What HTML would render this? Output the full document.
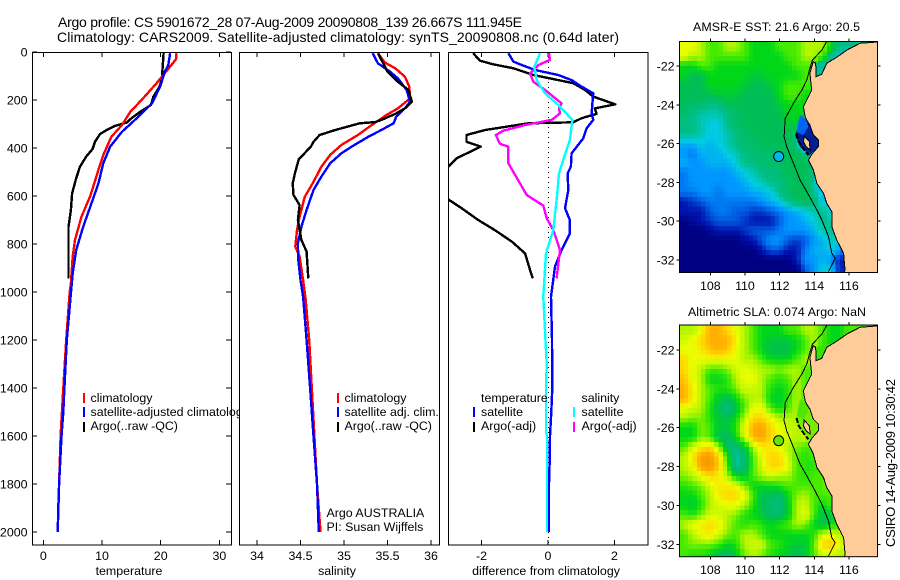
<!DOCTYPE html>
<html>
<head>
<meta charset="utf-8">
<title>Argo profile chart</title>
<style>
html,body{margin:0;padding:0;background:#fff;}
svg{display:block;font-family:"Liberation Sans",Arial,sans-serif;font-size:12.4px;fill:#000;}
text{fill:#000;}
</style>
</head>
<body>
<svg id="chart" xmlns="http://www.w3.org/2000/svg" width="900" height="580" viewBox="0 0 900 580">
<defs>
<clipPath id="clip-temp"><rect x="32" y="52" width="199.5" height="493"/></clipPath>
<clipPath id="clip-sal"><rect x="239.5" y="52" width="200" height="493"/></clipPath>
<clipPath id="clip-diff"><rect x="448.5" y="52" width="199.5" height="493"/></clipPath>
<clipPath id="clip-map1"><rect x="679.5" y="41.5" width="198" height="231"/></clipPath>
<clipPath id="clip-map2"><rect x="679.5" y="325" width="198" height="231.7"/></clipPath>
</defs>
<rect x="0" y="0" width="900" height="580" fill="#fff"/>
<text x="58" y="27" font-size="14" textLength="464">Argo profile: CS 5901672_28 07-Aug-2009 20090808_139 26.667S 111.945E</text>
<text x="57" y="42" font-size="14" textLength="562">Climatology: CARS2009. Satellite-adjusted climatology: synTS_20090808.nc (0.64d later)</text>

<g id="panel-temp">
<rect x="32.5" y="52.5" width="199" height="492.5" fill="#fff" stroke="#000"/>
<g id="temp-ticks"></g>
<g id="temp-marks" clip-path="url(#clip-temp)"></g>
<text x="129" y="575" text-anchor="middle">temperature</text>
<g>
<rect x="83" y="393" width="2" height="10" fill="#f00"/>
<text x="90.5" y="402">climatology</text>
<rect x="83" y="407" width="2" height="10" fill="#00f"/>
<text x="90.5" y="416">satellite-adjusted climatology</text>
<rect x="83" y="422" width="2" height="10" fill="#000"/>
<text x="90.5" y="430">Argo(..raw -QC)</text>
</g>
</g>

<g id="panel-sal">
<rect x="239.5" y="52.5" width="200" height="492.5" fill="#fff" stroke="#000"/>
<g id="sal-ticks"></g>
<g id="sal-marks" clip-path="url(#clip-sal)"></g>
<text x="337" y="575" text-anchor="middle">salinity</text>
<g>
<rect x="337" y="393" width="2" height="10" fill="#f00"/>
<text x="344.5" y="402">climatology</text>
<rect x="337" y="407" width="2" height="10" fill="#00f"/>
<text x="344.5" y="416">satellite adj. clim.</text>
<rect x="337" y="422" width="2" height="10" fill="#000"/>
<text x="344.5" y="430">Argo(..raw -QC)</text>
<text x="326.5" y="517">Argo AUSTRALIA</text>
<text x="326.5" y="531">PI: Susan Wijffels</text>
</g>
</g>

<g id="panel-diff">
<rect x="448.5" y="52.5" width="199.5" height="492.5" fill="#fff" stroke="#000"/>
<g id="diff-ticks"></g>
<g id="diff-marks" clip-path="url(#clip-diff)"></g>
<text x="546" y="575" text-anchor="middle">difference from climatology</text>
<g>
<text x="481" y="402">temperature</text>
<rect x="473" y="407" width="2" height="10" fill="#00f"/>
<text x="481" y="416">satellite</text>
<rect x="473" y="422" width="2" height="10" fill="#000"/>
<text x="481" y="430">Argo(-adj)</text>
<text x="581.5" y="402">salinity</text>
<rect x="573" y="407" width="2" height="10" fill="#0ff"/>
<text x="581.5" y="416">satellite</text>
<rect x="573" y="422" width="2" height="10" fill="#f0f"/>
<text x="581.5" y="430">Argo(-adj)</text>
</g>
</g>

<g id="map1">
<text x="776.5" y="31" text-anchor="middle" textLength="167">AMSR-E SST: 21.6 Argo: 20.5</text>
<g id="map1-cells" clip-path="url(#clip-map1)"></g>
<g id="map1-overlay" clip-path="url(#clip-map1)"></g>
<rect x="679.5" y="41.5" width="198" height="231" fill="none" stroke="#000"/>
<g id="map1-ticks"></g>
</g>

<g id="map2">
<text x="777" y="316" text-anchor="middle" textLength="178">Altimetric SLA: 0.074 Argo: NaN</text>
<g id="map2-cells" clip-path="url(#clip-map2)"></g>
<g id="map2-overlay" clip-path="url(#clip-map2)"></g>
<rect x="679.5" y="325" width="198" height="231.7" fill="none" stroke="#000"/>
<g id="map2-ticks"></g>
</g>

<text transform="translate(895,463) rotate(-90)" text-anchor="middle" font-size="13" textLength="168">CSIRO 14-Aug-2009 10:30:42</text>
</svg>

<script>
// ---- axis tick values ----
const depthTicks = [0, 200, 400, 600, 800, 1000, 1200, 1400, 1600, 1800, 2000];
const tempTicks = [0, 10, 20, 30];
const salTicks = [34, 34.5, 35, 35.5, 36];
const diffTicks = [-2, 0, 2];
const lonTicks = [108, 110, 112, 114, 116];
const latTicks = [-22, -24, -26, -28, -30, -32];

// ---- temperature panel ----
const tempClimDepth = [5, 30, 70, 130, 193, 250, 304, 353, 430, 490, 600, 686, 783, 853, 964, 1000, 1200, 1400, 1600, 1800, 2000];
const tempClimValue = [22.7, 22.6, 21.3, 19.3, 17, 14.8, 13.4, 11.6, 10.2, 9.4, 8, 6.5, 5.4, 5, 4.7, 4.5, 3.9, 3.4, 2.95, 2.7, 2.45];
const tempSatDepth = [5, 55, 82, 145, 214, 262, 297, 332, 394, 464, 547, 644, 728, 825, 922, 1005, 1200, 1400, 1500, 1600, 1700, 1800, 1900, 2000];
const tempSatValue = [21.6, 21.3, 20.7, 19.9, 18.5, 16.5, 15, 13.4, 11.4, 10.2, 9.4, 8, 6.8, 5.6, 5, 4.7, 4, 3.6, 3.4, 3.1, 2.9, 2.7, 2.55, 2.45];
const tempArgoDepth = [5, 110, 145, 186, 221, 249, 276, 294, 308, 325, 342, 374, 404, 436, 478, 526, 589, 658, 728, 943];
const tempArgoValue = [20.5, 20.2, 19.8, 18.75, 18.35, 16.5, 15.05, 14.2, 12.2, 10.8, 9.66, 8.8, 8.4, 7.3, 6.25, 5.6, 4.9, 4.7, 4.3, 4.3];

// ---- salinity panel ----
const salClimDepth = [5, 44, 68, 103, 144, 193, 235, 262, 304, 346, 387, 429, 478, 547, 603, 686, 742, 811, 853, 950, 1033, 1200, 1400, 1600, 1800, 2000];
const salClimValue = [35.39, 35.47, 35.59, 35.7, 35.75, 35.76, 35.62, 35.49, 35.32, 35.16, 34.97, 34.84, 34.74, 34.64, 34.55, 34.49, 34.46, 34.44, 34.49, 34.53, 34.56, 34.6, 34.63, 34.66, 34.69, 34.73];
const salSatDepth = [5, 47, 82, 110, 158, 207, 235, 269, 297, 325, 353, 394, 422, 464, 519, 575, 658, 728, 797, 867, 950, 1019, 1200, 1400, 1600, 1800, 2000];
const salSatValue = [35.33, 35.39, 35.53, 35.62, 35.72, 35.76, 35.7, 35.6, 35.57, 35.43, 35.28, 35.09, 34.97, 34.84, 34.74, 34.65, 34.57, 34.51, 34.47, 34.475, 34.5, 34.53, 34.57, 34.61, 34.65, 34.69, 34.71];
const salArgoDepth = [5, 47, 82, 124, 158, 207, 235, 258, 283, 292, 297, 325, 346, 374, 394, 447, 499, 547, 596, 638, 700, 783, 832, 943];
const salArgoValue = [35.39, 35.45, 35.5, 35.62, 35.74, 35.78, 35.7, 35.59, 35.43, 35.36, 35.18, 34.9, 34.72, 34.65, 34.62, 34.48, 34.44, 34.41, 34.42, 34.49, 34.47, 34.51, 34.57, 34.59];

// ---- difference panel ----
const diffTempArgoDepth = [5, 36, 50, 68, 96, 117, 130, 158, 186, 218, 235, 258, 276, 293, 297, 325, 346, 374, 394, 443, 478, 545, 614, 651, 700, 742, 790, 839, 908, 943];
const diffTempArgoValue = [-2.25, -2.05, -1.69, -1.04, -0.44, 0.31, 0.76, 1.11, 1.36, 2.02, 1.41, 1.46, 1.01, 0.76, -0.59, -1.89, -2.45, -2.45, -2.02, -2.75, -3, -3.5, -3, -2.6, -2.1, -1.6, -1.09, -0.69, -0.54, -0.46];
const diffTempSatDepth = [5, 40, 54, 75, 96, 117, 144, 172, 256, 283, 318, 360, 422, 478, 506, 575, 651, 700, 756, 825, 894, 1019, 1200, 1400, 1500, 1600, 1700, 1800, 2000];
const diffTempSatValue = [-1.19, -1.04, -0.79, -0.39, 0.31, 0.71, 1.01, 1.36, 1.31, 1.36, 1.16, 1.06, 0.71, 0.69, 0.59, 0.61, 0.51, 0.66, 0.66, 0.41, 0.21, 0.09, 0.12, 0.13, 0.1, 0.06, 0.05, 0.03, 0.03];
const diffSalSatDepth = [5, 61, 117, 172, 221, 283, 367, 436, 506, 617, 742, 839, 1019, 1300, 1400, 1580, 1600, 2000];
const diffSalSatValue = [-0.24, -0.41, -0.34, -0.09, 0.31, 0.73, 0.66, 0.49, 0.33, 0.26, 0.16, -0.06, -0.14, -0.04, -0.06, -0.06, -0.03, -0.03];
const diffSalArgoDepth = [5, 33, 54, 89, 124, 158, 214, 235, 256, 283, 304, 328, 346, 383, 394, 464, 512, 596, 640, 693, 742, 825, 943];
const diffSalArgoValue = [0.03, 0.06, -0.29, -0.54, -0.44, -0.09, 0.41, 0.33, 0.36, 0.11, -0.69, -1.34, -1.57, -1.44, -1.19, -1.19, -0.99, -0.64, -0.14, -0.04, 0.16, 0.36, 0.26];

// ---- map heatmap values (colour-scale units, 0.5 degree cells; land hides the rest) ----
const sstRows = [
[10,10,9,8,8,9,9,8,7,7,7,8,8,8,9,9,9,7,5,5,5],
[10,9,9,8,8,8,8,8,7,7,7,7,8,8,9,9,8,5,4,4],
[7,7,8,8,7,7,7,7,7,7,7,7,7,8,8,8,5,4],
[7,6,6,7,7,7,7,7,6.5,6.5,7,7,7,7,8,8,5],
[6,6,6,7,7,7,7,6.5,6,6,6.5,7,8,8,8],
[6,6,6,6,6.5,6.5,6.5,6,6,6,6,7,8,8,7],
[6,5.5,5.5,5,5,6,6,6,6,6,6,6.5,7,7,7],
[5.5,5,4.5,4.5,4.5,5,5.5,6,6,6,6,6,7,7,7],
[5,5,4.5,4,4,5,5.5,6,6,6,6,6,6.5,6.5,3],
[5,5,4.5,4,4,4.5,5,5.5,6,6,6,6,6,6,2],
[3.5,3.5,4,3.5,4,4.5,5,5.5,5.5,6,6,6,6,5,1],
[3,2.5,3.5,3.5,3.5,4,4.5,5,5.5,5.5,5.5,5.5,6,6,5],
[3.5,3,3,3.5,3.5,3.5,4,5,5,5.5,5.5,5.5,6,6,6,5],
[2.5,3,3,3,3,3,3.5,4,4.5,5,5,5.5,6,6,6,5,4],
[2.5,3,3,3,3,3,3,3.5,4,4.5,5,5,5.5,6,6,4.5,3],
[2.5,2.5,3,3,2.5,3,3,3,3.5,3.5,4,5,5.5,6,6,5,3.5,3],
[1,1.5,2,2.5,2.5,2.5,2.5,2.5,2.5,3,3.5,4,5,5.5,6,5.5,4,3],
[1,1,1,2,2.5,2.5,2,2,1.5,1.5,2,2.5,3,3.5,4,4.5,5,4],
[0,0.5,1,1.5,2,2,2,1.5,1,1,1,2,3,3,3.5,4,5,4.5],
[0,0,0,0.5,1,1,1,1.5,2,2,2,2.5,3,3,3,3.5,4.5,5,4],
[0,0,0,0,0,0,0,0.5,1,2,3,3,2,1.5,2,3,3.5,4.5,4],
[0,0,0,0,0,0,0,0,0,1,2,2,1,1,2.5,3.5,3.5,4,3,2],
[0,0,0,0,0,0,0,0,0,0,0,0,0,1,3,3,3.5,3,1,1],
[0,0,0,0,0,0,0,0,0,0,0,0,0,0,2,3,4,4,1,2]
];
const slaRows = [
[9,9,10,12,12,11,10,9,8,7,7,7,8,8,9,9,8,7,7,8,8],
[9.5,10,11,12,12,12,10.5,9,8,7,6.5,6.5,6.5,7,8,9,8,7,7,8],
[10,10,10.5,11.5,12,11.5,10,9,8,7,6,6,6,7,8,9,7.5,7],
[11,10,10,10,10,10,10,9,9,8,7,7,7,8,9,9,8],
[11,10,9,8,8,8.5,9.5,10,9.5,9,9,8.5,9,9,8],
[11.5,10,9,7,7,7.5,9,10,10,9,8,7.5,8,9,8],
[12,10.5,9,8,7.5,7.5,8.5,9.5,9.5,9,7.5,7,7.5,9,8],
[12,10.5,9,8,6.5,6,7,8.5,9,9,7,6.5,7.5,9,8],
[10,9.5,9,7.5,6,5,6,8,10,10,8,7,8,9,8],
[9,8.5,8.5,7.5,6.5,6,7,9,11,11,10,9,9,9,8.5,8],
[7,7,8.5,8,6.5,6.5,7.5,10,12,12.5,11,10,9.5,9,9,8],
[7,7,8.5,8,6,5.5,7,9.5,12,12.5,11,10,9.5,9,9.5,8],
[8,9.5,10.5,11,9,5.5,5,6.5,9,10.5,10.5,10,9,8.5,8,8,9],
[9,10.5,12.5,13,11,7.5,4.5,5.5,8,10,11,11,9.5,8,7.5,8,9,9],
[9,10,12.5,13,11.5,8,4.5,5.5,8,9.5,11,11,10,8,7.5,7.5,8.5,9],
[8.5,9,10,11,10.5,9,7,6.5,8,9,9.5,9,9,8,7.5,8,8,9],
[7.5,8,8.5,9.5,10.5,10.5,10,8.5,7,7,7,7.5,8,8,8,8,8,9],
[7,7,8,9,10.5,11,11,10,8,6,6,5.5,7,8.5,9,8,8,8,9],
[7,6.5,7.5,9,9.5,10,10,9,7.5,6,5.5,5,6.5,9,9.5,8,7,8,8.5],
[8,7.5,8.5,9.5,9.5,9,8.5,7.5,7,6.5,5.5,5.5,6.5,9,10,8,6,6.5,8,9],
[9,10,10.5,11,10.5,9,8,7.5,8,7.5,7,7.5,8,9,8.5,7,6,7,8,9],
[8,9,10,10.5,9.5,8.5,8,9,9,8,7,7,7,7,7,7.5,9.5,10,9,8.5,9],
[8,8.5,8.5,8.5,8,7,7.5,9,9.5,9.5,8,7.5,7,6.5,6.5,8,11,11.5,10,9,9.5],
[8,7.5,7.5,7,6,5.5,6.5,8.5,9,8.5,7.5,7,6.5,6,6.5,8,9.5,9.5,9,9,9.5]
];

// ---- geography (lon / lat) ----
const coastLon = [117.8,116.64,115.96,115.2,114.72,114.43,114.1,114.08,113.94,113.75,113.85,113.37,113.47,113.57,113.75,113.95,114.23,114.23,113.86,113.66,113.95,114.15,114.53,114.72,115.01,115.01,115.3,115.69,115.78,115.73,117.8];
const coastLat = [-20.75,-20.83,-21.14,-21.6,-21.86,-22.43,-22.55,-21.86,-21.78,-22.38,-23.24,-24.1,-24.61,-24.8,-25.04,-25.56,-25.81,-26.16,-26.54,-26.85,-27.36,-28.05,-28.56,-29.08,-29.51,-30.28,-30.97,-31.66,-32.52,-32.65,-32.65];
const isobathLon = [114.72,114.44,113.9,113.72,113.57,113.28,112.8,112.32,112.26,112.41,112.8,113.18,113.57,114.05,114.44,114.82,115.01,115.21,114.82];
const isobathLat = [-20.73,-21.18,-21.69,-22.21,-22.72,-23.24,-23.92,-24.7,-25.64,-26.16,-27.02,-27.88,-28.48,-29.25,-29.94,-30.8,-31.66,-31.91,-32.6];
const bayLon = [113.18,113.56,113.75,114.23,114.23,113.75,113.18,112.89,113.08];
const bayLat = [-24.53,-24.78,-25.04,-25.81,-26.16,-26.59,-26.16,-25.56,-25.13];
const bayNorthLon = [113.18,113.56,113.65,113.37,112.99,113.08];
const bayNorthLat = [-24.53,-24.78,-25.16,-25.56,-25.39,-24.95];
const peronLon = [113.41,113.72,113.76,113.53,113.38];
const peronLat = [-25.61,-25.9,-26.33,-26.16,-25.9];
const gulfLon = [115.2,114.72,114.43,114.1,114.08];
const gulfLat = [-21.6,-21.86,-22.43,-22.55,-21.86];
const islandLon = [112.98,113.1,113.36,113.66];
const islandLat = [-25.5,-25.9,-26.25,-26.6];
const floatLon = 111.945;
const floatLat = -26.667;

// ---- colour scale (index = heatmap value) ----
const colourScale = [[0,0,130],[0,20,175],[0,90,225],[0,150,255],[0,205,225],[0,190,130],[0,190,85],[0,215,25],[70,235,0],[180,245,0],[235,255,0],[255,215,0],[255,175,0],[250,150,0]];

const NS = 'http://www.w3.org/2000/svg';
function make(tag, attrs, parent) {
  const el = document.createElementNS(NS, tag);
  for (const k in attrs) el.setAttribute(k, attrs[k]);
  parent.appendChild(el);
  return el;
}
function $(id) { return document.getElementById(id); }

// axis functions
const depthY = d => 52 + 0.24 * d;
const tempX = v => 43.3 + 5.87 * v;
const salX = v => 257 + 87 * (v - 34);
const diffX = v => 548 + 33.25 * v;
const lonX = v => 710.3 + 17.33 * (v - 108);
const map1Y = v => 66 + 19.4 * (-22 - v);
const map2Y = v => 350 + 19.43 * (-22 - v);

function profile(parent, depths, values, xFn, colour, width, name) {
  const pts = depths.map((d, i) => xFn(values[i]).toFixed(1) + ',' + depthY(d).toFixed(1)).join(' ');
  const el = make('polyline', {points: pts, fill: 'none', stroke: colour, 'stroke-width': width, 'stroke-linejoin': 'round', 'shape-rendering': 'crispEdges'}, parent);
  
  
}

function xAxis(parent, ticks, xFn, prefix) {
  ticks.forEach(t => {
    const x = xFn(t);
    const top = make('line', {x1: x, x2: x, y1: 52.5, y2: 57, stroke: '#000', 'shape-rendering': 'crispEdges'}, parent);
    
    
    const bot = make('line', {x1: x, x2: x, y1: 540, y2: 545, stroke: '#000', 'shape-rendering': 'crispEdges'}, parent);
    
    
    const lab = make('text', {x: x, y: 560, 'text-anchor': 'middle'}, parent);
    lab.textContent = String(t);
    
    
  });
}

xAxis($('temp-ticks'), tempTicks, tempX, 'temperature');
xAxis($('sal-ticks'), salTicks, salX, 'salinity');
xAxis($('diff-ticks'), diffTicks, diffX, 'difference');

depthTicks.forEach(d => {
  const y = depthY(d);
  const g = $('temp-ticks');
  const l = make('line', {x1: 32.5, x2: 37, y1: y, y2: y, stroke: '#000', 'shape-rendering': 'crispEdges'}, g);
  
  
  const r = make('line', {x1: 226, x2: 231, y1: y, y2: y, stroke: '#000', 'shape-rendering': 'crispEdges'}, g);
  
  
  const t = make('text', {x: 27.5, y: y + 4.5, 'text-anchor': 'end'}, g);
  t.textContent = String(d);
  
  
});

profile($('temp-marks'), tempArgoDepth, tempArgoValue, tempX, '#000', 2.4, 'temperature-argo-line');
profile($('temp-marks'), tempClimDepth, tempClimValue, tempX, '#f00', 2.4, 'temperature-climatology-line');
profile($('temp-marks'), tempSatDepth, tempSatValue, tempX, '#00f', 2.4, 'temperature-satellite-line');

profile($('sal-marks'), salClimDepth, salClimValue, salX, '#f00', 2.4, 'salinity-climatology-line');
profile($('sal-marks'), salSatDepth, salSatValue, salX, '#00f', 2.4, 'salinity-satellite-line');
profile($('sal-marks'), salArgoDepth, salArgoValue, salX, '#000', 2.4, 'salinity-argo-line');

const zeroLine = make('line', {x1: diffX(0) + 0.5, x2: diffX(0) + 0.5, y1: depthY(0), y2: 545, stroke: '#000', 'stroke-dasharray': '1 4', 'shape-rendering': 'crispEdges'}, $('diff-marks'));


profile($('diff-marks'), diffTempArgoDepth, diffTempArgoValue, diffX, '#000', 2.4, 'difference-temperature-argo-line');
profile($('diff-marks'), diffTempSatDepth, diffTempSatValue, diffX, '#00f', 2.4, 'difference-temperature-satellite-line');
profile($('diff-marks'), diffSalArgoDepth, diffSalArgoValue, diffX, '#f0f', 2.4, 'difference-salinity-argo-line');
profile($('diff-marks'), diffSalSatDepth, diffSalSatValue, diffX, '#0ff', 2.4, 'difference-salinity-satellite-line');

function colourOf(v) {
  const i = Math.max(0, Math.min(colourScale.length - 2, Math.floor(v)));
  const f = Math.max(0, Math.min(1, v - i));
  const a = colourScale[i], b = colourScale[i + 1];
  return 'rgb(' + a.map((c, k) => Math.round(c + (b[k] - c) * f)).join(',') + ')';
}

const gridLon0 = 106.22;
const gridLat0 = -20.74;
const gridStep = 0.5;
const drawStep = 0.25;

// read a value at a fractional grid position
function sampleGrid(rows, fj, fi) {
  const j0 = Math.max(0, Math.min(rows.length - 1, Math.floor(fj)));
  const j1 = Math.max(0, Math.min(rows.length - 1, j0 + (fj < 0 ? 0 : 1)));
  const tj = Math.max(0, Math.min(1, fj - j0));
  const rowAt = (row, fx) => {
    const i0 = Math.max(0, Math.min(row.length - 1, Math.floor(fx)));
    const i1 = Math.max(0, Math.min(row.length - 1, i0 + (fx < 0 ? 0 : 1)));
    const ti = Math.max(0, Math.min(1, fx - i0));
    return row[i0] + (row[i1] - row[i0]) * ti;
  };
  return rowAt(rows[j0], fi) * (1 - tj) + rowAt(rows[j1], fi) * tj;
}

function polyPoints(lons, lats, yFn) {
  return lons.map((lon, i) => lonX(lon).toFixed(1) + ',' + yFn(lats[i]).toFixed(1)).join(' ');
}

function drawMap(rows, yFn, cellGroup, overlay, tickGroup, prefix, opts) {
  const nj = rows.length * 2, ni = 46;
  for (let j = 0; j < nj; j++) {
    for (let i = 0; i < ni; i++) {
      const v = sampleGrid(rows, (j + 0.5) / 2 - 0.5, (i + 0.5) / 2 - 0.5);
      const x0 = lonX(gridLon0 + i * drawStep), x1 = lonX(gridLon0 + (i + 1) * drawStep);
      const y0 = yFn(gridLat0 - j * drawStep), y1 = yFn(gridLat0 - (j + 1) * drawStep);
      const c = make('rect', {x: x0.toFixed(2), y: y0.toFixed(2), width: (x1 - x0 + 0.4).toFixed(2), height: (y1 - y0 + 0.4).toFixed(2), fill: colourOf(v), 'shape-rendering': 'crispEdges'}, cellGroup);
      
      
    }
  }
  const gulf = make('polygon', {points: polyPoints(gulfLon, gulfLat, yFn), fill: opts.gulf, stroke: 'none', 'shape-rendering': 'crispEdges'}, overlay);
  
  
  const bay = make('polygon', {points: polyPoints(bayLon, bayLat, yFn), fill: opts.bay, stroke: 'none', 'shape-rendering': 'crispEdges'}, overlay);
  
  
  const bayN = make('polygon', {points: polyPoints(bayNorthLon, bayNorthLat, yFn), fill: opts.bayNorth, stroke: 'none', 'shape-rendering': 'crispEdges'}, overlay);
  
  
  const land = make('polygon', {points: polyPoints(coastLon, coastLat, yFn), fill: '#ffcc99', stroke: '#000', 'stroke-width': 1, 'shape-rendering': 'crispEdges'}, overlay);
  
  
  const peron = make('polygon', {points: polyPoints(peronLon, peronLat, yFn), fill: '#ffcc99', stroke: '#000', 'stroke-width': 1, 'shape-rendering': 'crispEdges'}, overlay);
  
  
  const isle = make('polyline', {points: polyPoints(islandLon, islandLat, yFn), fill: 'none', stroke: '#000', 'stroke-width': 2, 'stroke-dasharray': '5 2', 'shape-rendering': 'crispEdges'}, overlay);
  
  
  const iso = make('polyline', {points: polyPoints(isobathLon, isobathLat, yFn), fill: 'none', stroke: '#000', 'stroke-width': 1, 'shape-rendering': 'crispEdges'}, overlay);
  
  
  const m = make('circle', {cx: lonX(floatLon), cy: yFn(floatLat), r: 5, fill: opts.marker, stroke: '#000', 'stroke-width': 1}, overlay);
  
  

  const bot = opts.bottom;
  lonTicks.forEach(t => {
    const x = lonX(t);
    const a = make('line', {x1: x, x2: x, y1: opts.top - 3, y2: opts.top, stroke: '#000', 'shape-rendering': 'crispEdges'}, tickGroup);
    
    
    const b = make('line', {x1: x, x2: x, y1: bot, y2: bot + 3, stroke: '#000', 'shape-rendering': 'crispEdges'}, tickGroup);
    
    
    const l = make('text', {x: x, y: bot + 17.5, 'text-anchor': 'middle'}, tickGroup);
    l.textContent = String(t);
    
    
  });
  latTicks.forEach(t => {
    const y = yFn(t);
    const a = make('line', {x1: 676.5, x2: 679.5, y1: y, y2: y, stroke: '#000', 'shape-rendering': 'crispEdges'}, tickGroup);
    
    
    const b = make('line', {x1: 877.5, x2: 880.5, y1: y, y2: y, stroke: '#000', 'shape-rendering': 'crispEdges'}, tickGroup);
    
    
    const l = make('text', {x: 674.5, y: y + 4.5, 'text-anchor': 'end'}, tickGroup);
    l.textContent = String(t);
    
    
  });
}

drawMap(sstRows, map1Y, $('map1-cells'), $('map1-overlay'), $('map1-ticks'), 'sst',
  {gulf: '#00be96', bay: '#001e96', bayNorth: '#0064f0', marker: '#00b9eb', top: 41.5, bottom: 272.5});
drawMap(slaRows, map2Y, $('map2-cells'), $('map2-overlay'), $('map2-ticks'), 'sla',
  {gulf: '#32e600', bay: '#78eb00', bayNorth: '#50e600', marker: '#64e600', top: 325, bottom: 556.7});
</script>
</body>
</html>
